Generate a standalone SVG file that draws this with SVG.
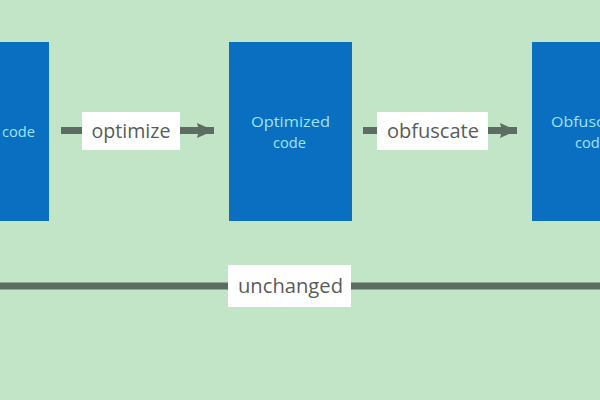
<svg xmlns="http://www.w3.org/2000/svg" width="600" height="400" viewBox="0 0 600 400">
<style>
.bg{fill:#c1e5c6}
.box{fill:#0a6fc1}
.btxt{font-family:"Open Sans","Noto Sans",sans-serif;font-size:15px;fill:#9fe3fb;text-anchor:middle}
.line{stroke:#5d6d61;stroke-width:7;fill:none}
.lbl{fill:#ffffff}
.ltxt{font-family:"Open Sans","Noto Sans",sans-serif;font-size:20px;fill:#585c5a;text-anchor:middle}
</style>
<defs>
<marker id="ah" viewBox="0 0 18 16" refX="17" refY="8" markerWidth="18" markerHeight="16" orient="auto" markerUnits="userSpaceOnUse">
<path d="M0,0.5 L17,8 L0,15.5 L2,8 Z" fill="#5d6d61"/>
</marker>
</defs>
<rect class="bg" x="0" y="0" width="600" height="400"/>
<g id="connectors">
<line class="line" x1="61" y1="130.5" x2="214" y2="130.5" marker-end="url(#ah)"/>
<line class="line" x1="363" y1="130.5" x2="517" y2="130.5" marker-end="url(#ah)"/>
<line class="line" x1="0" y1="286" x2="600" y2="286"/>
</g>
<g id="source">
<rect class="box" x="-80" y="42" width="129" height="179"/>
<text class="btxt" x="18.5" y="136.5" textLength="33" lengthAdjust="spacingAndGlyphs">code</text>
</g>
<g id="optimized">
<rect class="box" x="229" y="42" width="123" height="179"/>
<text class="btxt" x="290.5" y="127" textLength="79" lengthAdjust="spacingAndGlyphs">Optimized</text>
<text class="btxt" x="289.5" y="147.5" textLength="33" lengthAdjust="spacingAndGlyphs">code</text>
</g>
<g id="obfuscated">
<rect class="box" x="532" y="42" width="123" height="179"/>
<text class="btxt" x="551" y="127" style="text-anchor:start" textLength="86" lengthAdjust="spacingAndGlyphs">Obfuscated</text>
<text class="btxt" x="575" y="147.5" style="text-anchor:start" textLength="33" lengthAdjust="spacingAndGlyphs">code</text>
</g>
<g id="label-optimize">
<rect class="lbl" x="82" y="112" width="98" height="38"/>
<text class="ltxt" x="131" y="137.5" textLength="79" lengthAdjust="spacingAndGlyphs">optimize</text>
</g>
<g id="label-obfuscate">
<rect class="lbl" x="377" y="112" width="111" height="38"/>
<text class="ltxt" x="433" y="137.5" textLength="92" lengthAdjust="spacingAndGlyphs">obfuscate</text>
</g>
<g id="label-unchanged">
<rect class="lbl" x="228" y="265" width="123" height="42"/>
<text class="ltxt" x="290.5" y="293" textLength="105" lengthAdjust="spacingAndGlyphs">unchanged</text>
</g>
</svg>
